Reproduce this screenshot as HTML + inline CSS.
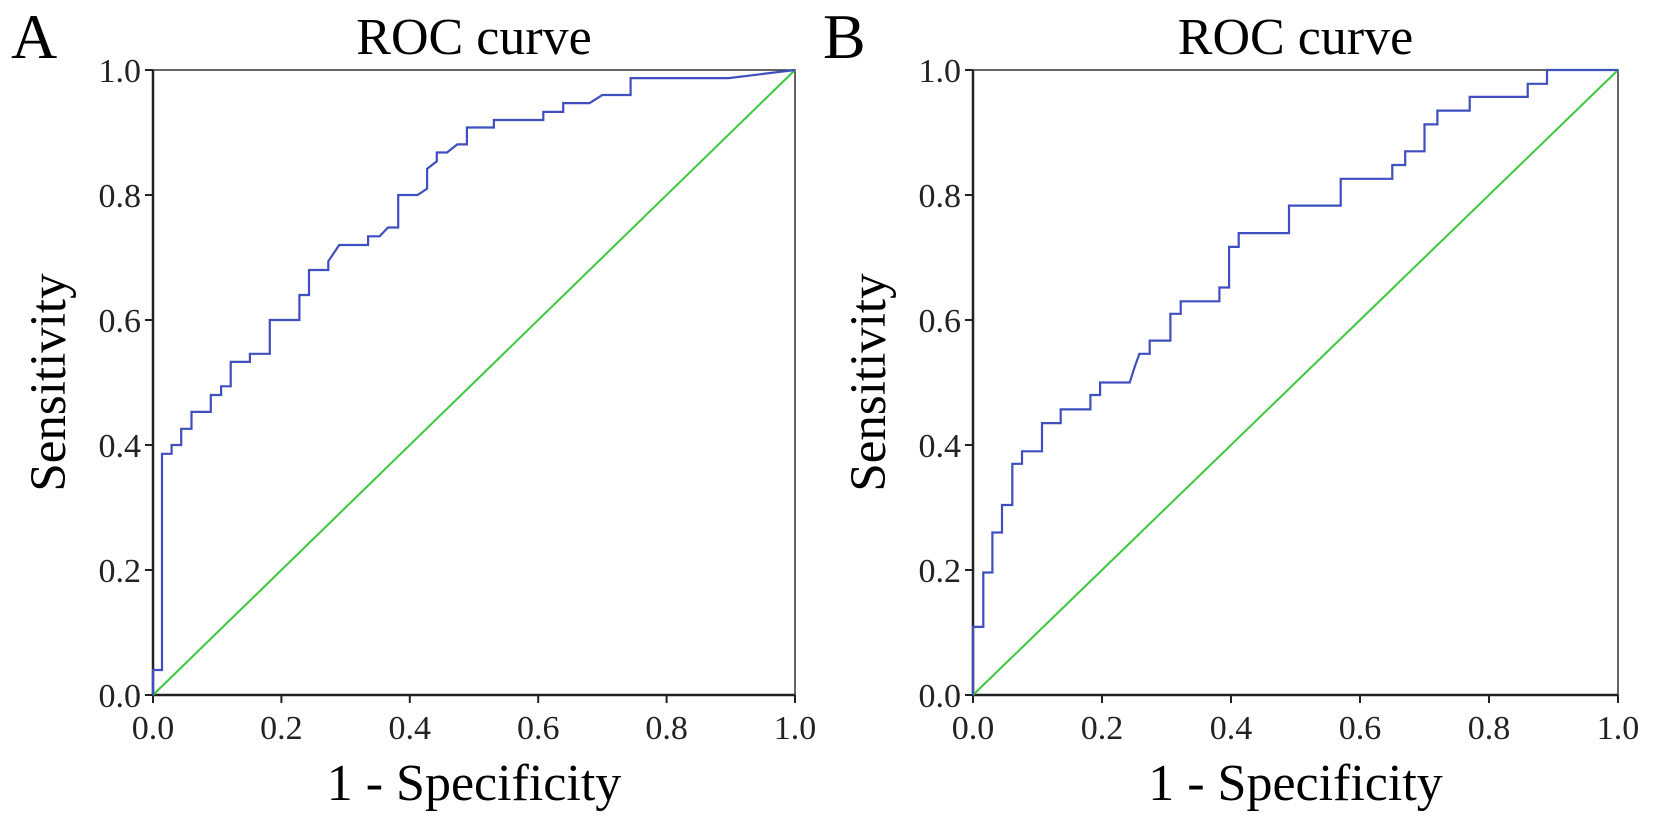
<!DOCTYPE html>
<html><head><meta charset="utf-8"><style>
html,body{margin:0;padding:0;background:#fff;}
svg{display:block;font-family:"Liberation Serif","Times New Roman",serif;}
</style></head><body>
<svg id="chart" width="1654" height="822" viewBox="0 0 1654 822"></svg>
<script>
const ticks = [0.0, 0.2, 0.4, 0.6, 0.8, 1.0];
const tickLabels = ["0.0", "0.2", "0.4", "0.6", "0.8", "1.0"];
const fprA = [0, 0, 0.014, 0.014, 0.029, 0.029, 0.044, 0.044, 0.06, 0.06, 0.09, 0.09, 0.106, 0.106, 0.121, 0.121, 0.151, 0.151, 0.182, 0.182, 0.228, 0.228, 0.243, 0.243, 0.273, 0.273, 0.29, 0.335, 0.335, 0.353, 0.366, 0.382, 0.382, 0.412, 0.427, 0.427, 0.442, 0.442, 0.458, 0.474, 0.489, 0.489, 0.531, 0.531, 0.608, 0.608, 0.639, 0.639, 0.68, 0.7, 0.744, 0.744, 0.897, 1.0];
const tprA = [0, 0.04, 0.04, 0.386, 0.386, 0.40, 0.40, 0.426, 0.426, 0.453, 0.453, 0.48, 0.48, 0.494, 0.494, 0.533, 0.533, 0.546, 0.546, 0.60, 0.60, 0.64, 0.64, 0.68, 0.68, 0.694, 0.72, 0.72, 0.734, 0.734, 0.748, 0.748, 0.80, 0.80, 0.81, 0.842, 0.854, 0.868, 0.868, 0.881, 0.881, 0.908, 0.908, 0.92, 0.92, 0.933, 0.933, 0.947, 0.947, 0.96, 0.96, 0.987, 0.987, 1.0];
const fprB = [0, 0, 0.016, 0.016, 0.03, 0.03, 0.045, 0.045, 0.061, 0.061, 0.076, 0.076, 0.107, 0.107, 0.136, 0.136, 0.182, 0.182, 0.197, 0.197, 0.243, 0.251, 0.258, 0.274, 0.274, 0.306, 0.306, 0.322, 0.322, 0.382, 0.382, 0.397, 0.397, 0.412, 0.412, 0.49, 0.49, 0.57, 0.57, 0.65, 0.65, 0.67, 0.67, 0.70, 0.70, 0.72, 0.72, 0.77, 0.77, 0.86, 0.86, 0.89, 0.89, 1.0];
const tprB = [0, 0.109, 0.109, 0.196, 0.196, 0.26, 0.26, 0.304, 0.304, 0.37, 0.37, 0.39, 0.39, 0.435, 0.435, 0.457, 0.457, 0.48, 0.48, 0.50, 0.50, 0.526, 0.546, 0.546, 0.567, 0.567, 0.61, 0.61, 0.63, 0.63, 0.652, 0.652, 0.717, 0.717, 0.739, 0.739, 0.783, 0.783, 0.826, 0.826, 0.848, 0.848, 0.87, 0.87, 0.913, 0.913, 0.935, 0.935, 0.957, 0.957, 0.978, 0.978, 1.0, 1.0];

const NS = "http://www.w3.org/2000/svg";
const svg = document.getElementById("chart");
function mk(tag, attrs, parent) {
  const e = document.createElementNS(NS, tag);
  for (const k in attrs) e.setAttribute(k, attrs[k]);
  (parent || svg).appendChild(e);
  return e;
}
function panel(letter, x0, x1, y0, y1, fpr, tpr, letterOff) {
  const g = mk("g", {});
  
  
  const sx = v => x0 + v * (x1 - x0);
  const sy = v => y0 - v * (y0 - y1);
  const cx = (x0 + x1) / 2;
  let t = mk("text", {x: x0 - letterOff, y: 58, "font-size": 64}, g); t.textContent = letter;
  
  
  t = mk("text", {x: cx, y: 54, "font-size": 52, "text-anchor": "middle"}, g); t.textContent = "ROC curve";
  
  
  t = mk("text", {x: cx, y: 800, "font-size": 52, "text-anchor": "middle"}, g); t.textContent = "1 - Specificity";
  
  
  t = mk("text", {x: 0, y: 0, "font-size": 51, "text-anchor": "middle", transform: `translate(${x0 - 88},${(y0 + y1) / 2}) rotate(-90)`}, g); t.textContent = "Sensitivity";
  
  
  const fr = mk("rect", {x: x0, y: y1, width: x1 - x0, height: y0 - y1, fill: "none", stroke: "#333", "stroke-width": 1.5}, g);
  
  
  mk("line", {x1: x0, y1: y1, x2: x0, y2: y0, stroke: "#222", "stroke-width": 2.5}, g);
  mk("line", {x1: x0, y1: y0, x2: x1, y2: y0, stroke: "#222", "stroke-width": 2.5}, g);
  ticks.forEach((v, i) => {
    mk("line", {x1: x0 - 8, y1: sy(v), x2: x0, y2: sy(v), stroke: "#222", "stroke-width": 2}, g);
    let yl = mk("text", {x: x0 - 12, y: sy(v) + 12, "font-size": 34, "text-anchor": "end", fill: "#222"}, g);
    yl.textContent = tickLabels[i];
    
    
    mk("line", {x1: sx(v), y1: y0, x2: sx(v), y2: y0 + 8, stroke: "#222", "stroke-width": 2}, g);
    let xl = mk("text", {x: sx(v), y: y0 + 44, "font-size": 34, "text-anchor": "middle", fill: "#222"}, g);
    xl.textContent = tickLabels[i];
    
    
  });
  const ref = mk("line", {x1: sx(0), y1: sy(0), x2: sx(1), y2: sy(1), stroke: "#3cc83c", "stroke-width": 2}, g);
  
  
  const pts = fpr.map((f, i) => sx(f).toFixed(1) + "," + sy(tpr[i]).toFixed(1)).join(" ");
  const c = mk("polyline", {points: pts, fill: "none", stroke: "#3f4fc0", "stroke-width": 2.2}, g);
  
  
}
panel("A", 153, 795, 695, 70, fprA, tprA, 142);
panel("B", 973, 1618, 695, 70, fprB, tprB, 150);
</script>
</body></html>
